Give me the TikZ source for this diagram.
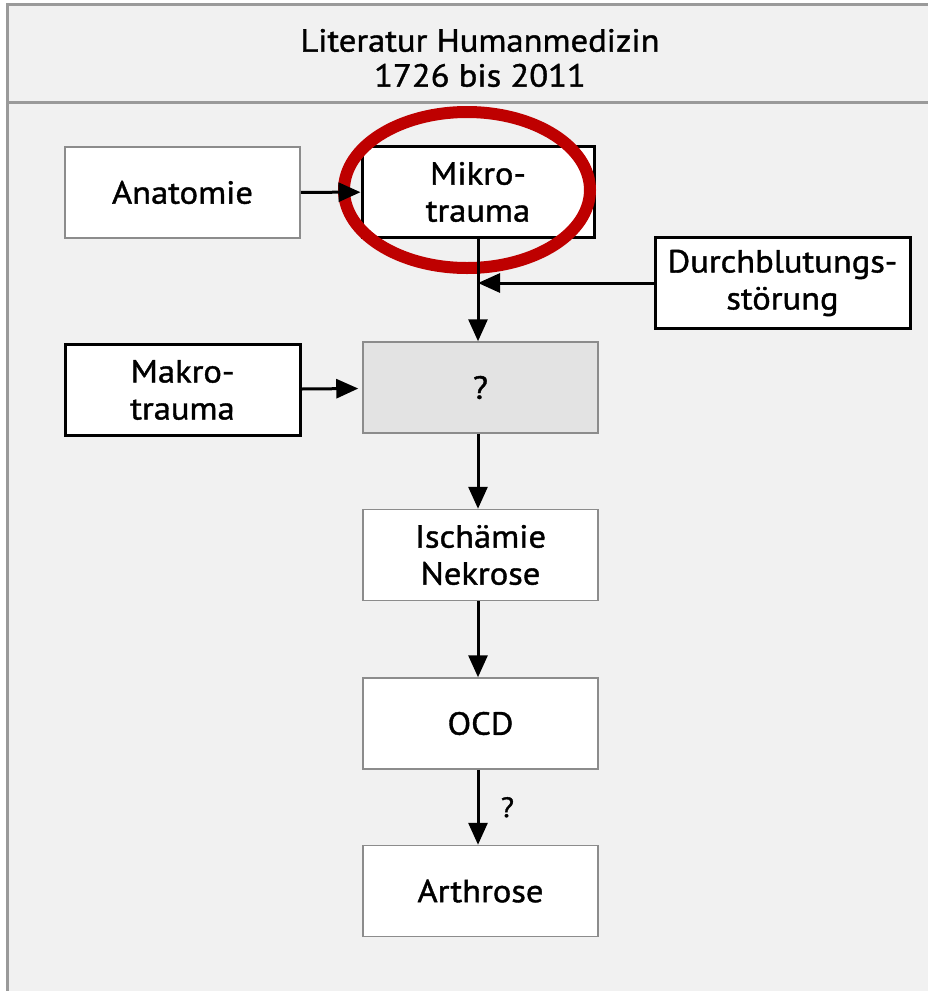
\documentclass[tikz,border=0pt]{standalone}
\usepackage{fontspec}
\setmainfont{PT Sans}[FakeBold=1.2, FakeStretch=1.08]
\usetikzlibrary{arrows.meta,positioning}
\definecolor{panelgray}{HTML}{F1F1F1}
\definecolor{framegray}{HTML}{9A9A9A}
\definecolor{boxgray}{HTML}{8C8C8C}
\definecolor{unknowngray}{HTML}{E3E3E3}
\definecolor{markred}{HTML}{BE0000}
\tikzset{
  box/.style={draw=boxgray, line width=1.5pt, fill=white, align=center,
    minimum width=235pt, minimum height=91pt, inner sep=0pt,
    font=\fontsize{32}{37}\selectfont},
  keybox/.style={box, draw=black, line width=3pt},
  flow/.style={line width=3pt, -{Triangle[length=22pt,width=19pt]}}
}
\begin{document}
\begin{tikzpicture}[x=1pt, y=-1pt]
  \useasboundingbox (0,0) rectangle (928,991);
  % panel and header
  \fill[white] (0,0) rectangle (928,991);
  \fill[panelgray] (7,4) rectangle (935,995);
  \draw[framegray, line width=3pt] (935,4) -- (7,4) -- (7,995);
  \draw[framegray, line width=3pt] (7,102) -- (935,102);
  \node[align=center, font=\fontsize{32}{35}\selectfont] (title) at (480,58)
    {Literatur Humanmedizin\\1726 bis 2011};

  % boxes
  \node[box] (anatomie) at (182.5,192.5) {Anatomie};
  \node[keybox, minimum width=232pt] (mikro) at (478,192) {Mikro-\\trauma};
  \node[keybox, minimum width=255pt] (durch) at (782.5,283) {Durchblutungs-\\störung};
  \node[keybox] (makro) at (182.5,390) {Makro-\\trauma};
  \node[box, fill=unknowngray] (unknown) at (480.5,387.5) {?};
  \node[box] (ischaemie) at (480.5,555) {Ischämie\\Nekrose};
  \node[box] (ocd) at (480.5,723.5) {OCD};
  \node[box] (arthrose) at (480.5,891) {Arthrose};

  % highlight
  \draw[markred, line width=12pt] (467,190) ellipse [x radius=123, y radius=78];

  % connectors
  \coordinate (join) at (mikro.south |- durch.west);
  \draw[flow] (anatomie) -- (mikro);
  \draw[line width=3pt] (mikro.south) -- (join);
  \draw[flow] (join) -- (mikro.south |- unknown.north);
  \draw[flow] (durch) -- (join);
  \draw[flow, shorten >=4pt] (makro) -- (unknown);
  \draw[flow] (unknown.south -| mikro.south) -- (mikro.south |- ischaemie.north);
  \draw[flow] (ischaemie.south -| mikro.south) -- (mikro.south |- ocd.north);
  \draw[flow] (ocd.south -| mikro.south) -- node[right=18pt, font=\fontsize{28}{32}\selectfont] (maybe) {?}
    (mikro.south |- arthrose.north);
\end{tikzpicture}
\end{document}
